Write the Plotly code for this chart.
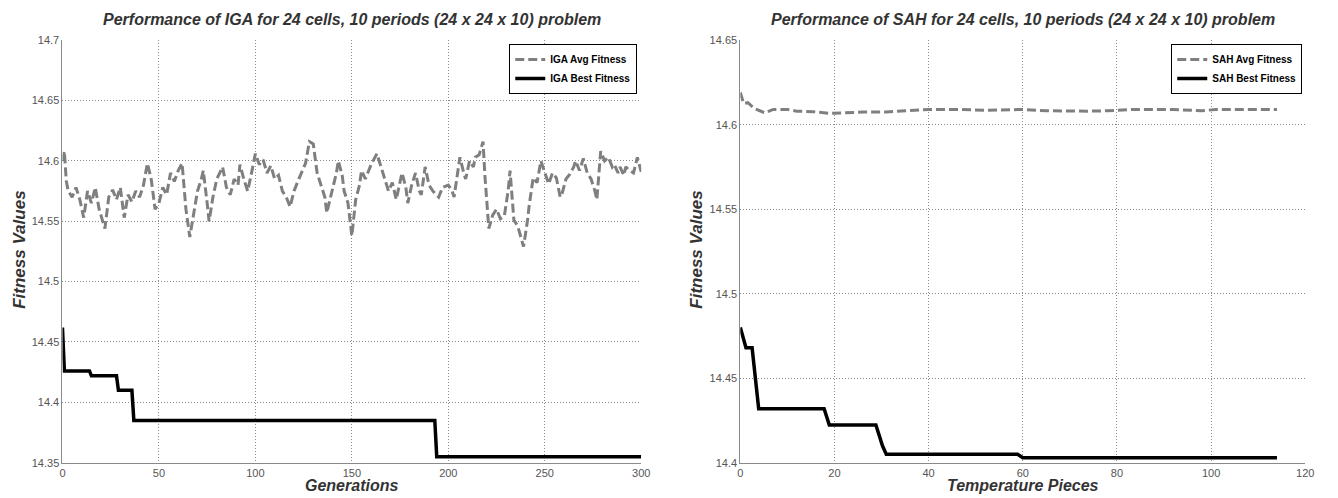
import plotly.graph_objects as go

# ---------------- data ----------------
iga_avg_gen = [0, 1, 2, 3, 5, 7, 9, 11, 13, 15, 17, 19, 22, 24, 26, 28, 30, 32, 34, 36, 38, 40, 42, 44, 46, 48,
               50, 52, 54, 56, 58, 60, 62, 64, 66, 68, 70, 72, 73, 75, 76, 78, 80, 83, 85, 87, 89, 91, 92, 94, 96,
               98, 100, 102, 104, 106, 108, 110, 112, 114, 116, 118, 120, 122, 124, 126, 128, 130, 132, 134, 136,
               137, 139, 140, 142, 143, 145, 146, 148, 150, 152, 154, 155, 157, 160, 163, 166, 168, 169, 171, 173,
               176, 178, 179, 181, 183, 185, 186, 188, 190, 192, 195, 197, 200, 202, 203, 205, 206, 208, 209, 211,
               213, 214, 216, 218, 219, 221, 223, 225, 227, 229, 231, 232, 234, 236, 238, 239, 241, 242, 244, 246,
               248, 250, 252, 254, 256, 258, 259, 261, 263, 265, 266, 268, 270, 272, 274, 276, 277, 279, 281, 283,
               285, 286, 288, 289, 291, 292, 294, 296, 298, 300]
iga_avg_val = [14.600, 14.608, 14.583, 14.575, 14.570, 14.578, 14.568, 14.553, 14.575, 14.565, 14.578, 14.560,
               14.544, 14.570, 14.576, 14.568, 14.578, 14.553, 14.572, 14.566, 14.575, 14.570, 14.580, 14.598,
               14.585, 14.560, 14.565, 14.578, 14.572, 14.590, 14.583, 14.592, 14.598, 14.560, 14.537, 14.555,
               14.575, 14.585, 14.592, 14.565, 14.550, 14.570, 14.585, 14.595, 14.578, 14.572, 14.585, 14.580,
               14.597, 14.585, 14.575, 14.590, 14.606, 14.597, 14.601, 14.590, 14.596, 14.585, 14.588, 14.575,
               14.570, 14.562, 14.575, 14.583, 14.590, 14.598, 14.616, 14.614, 14.590, 14.580, 14.570, 14.557,
               14.570, 14.578, 14.590, 14.600, 14.588, 14.575, 14.565, 14.538, 14.568, 14.580, 14.592, 14.585,
               14.597, 14.606, 14.590, 14.580, 14.575, 14.582, 14.568, 14.590, 14.578, 14.565, 14.580, 14.590,
               14.575, 14.572, 14.595, 14.580, 14.575, 14.570, 14.578, 14.580, 14.575, 14.570, 14.590, 14.603,
               14.590, 14.585, 14.600, 14.595, 14.603, 14.605, 14.616, 14.587, 14.544, 14.555, 14.560, 14.552,
               14.554, 14.575, 14.592, 14.551, 14.546, 14.535, 14.529, 14.550, 14.564, 14.586, 14.582, 14.600,
               14.590, 14.581, 14.590, 14.586, 14.570, 14.573, 14.585, 14.589, 14.595, 14.600, 14.592, 14.602,
               14.590, 14.585, 14.575, 14.568, 14.608, 14.600, 14.603, 14.595, 14.597, 14.590, 14.595, 14.588,
               14.595, 14.592, 14.590, 14.603, 14.591]

iga_best_gen = [0, 1, 14, 15, 28, 29, 36, 37, 193, 194, 300]
iga_best_val = [14.462, 14.426, 14.426, 14.422, 14.422, 14.410, 14.410, 14.385, 14.385, 14.355, 14.355]

sah_avg_piece = [0, 0.7, 1.6, 3, 5.2, 7, 10, 12, 15.5, 18.7, 22, 26, 31, 34, 40, 47, 52, 60, 65, 74, 78, 83,
                 92, 98, 101, 114]
sah_avg_val = [14.619, 14.6125, 14.613, 14.6096, 14.607, 14.609, 14.609, 14.608, 14.6077, 14.6067, 14.607,
               14.6075, 14.6075, 14.608, 14.609, 14.609, 14.6085, 14.609, 14.6082, 14.608, 14.6082, 14.609,
               14.609, 14.6082, 14.609, 14.609]

sah_best_piece = [0, 1.2, 2.5, 3.9, 17.8, 18.9, 28.8, 30.2, 31, 58.9, 60, 114]
sah_best_val = [14.480, 14.468, 14.468, 14.432, 14.432, 14.4223, 14.4223, 14.410, 14.405, 14.405, 14.403, 14.403]

iga_yticks = [14.35, 14.4, 14.45, 14.5, 14.55, 14.6, 14.65, 14.7]
iga_yticklabels = ["14.35", "14.4", "14.45", "14.5", "14.55", "14.6", "14.65", "14.7"]
iga_xticks = [0, 50, 100, 150, 200, 250, 300]
sah_yticks = [14.4, 14.45, 14.5, 14.55, 14.6, 14.65]
sah_yticklabels = ["14.4", "14.45", "14.5", "14.55", "14.6", "14.65"]
sah_xticks = [0, 20, 40, 60, 80, 100, 120]

titles = ["Performance of IGA for 24 cells, 10 periods (24 x 24 x 10) problem",
          "Performance of SAH for 24 cells, 10 periods (24 x 24 x 10) problem"]
xtitles = ["Generations", "Temperature Pieces"]
ytitle = "Fitness Values"
legend_names = ["IGA Avg Fitness", "IGA Best Fitness", "SAH Avg Fitness", "SAH Best Fitness"]

# ---------------- figure ----------------
W, H = 1338, 498
FONT = "Liberation Sans"
AVG_C = "#7f7f7f"
AVG_DASH = "9px,4px"

fig = go.Figure()
fig.add_trace(go.Scatter(x=iga_avg_gen, y=iga_avg_val, mode="lines", name="<b>" + legend_names[0] + "</b>",
                         line=dict(color=AVG_C, width=3, dash=AVG_DASH), xaxis="x", yaxis="y", legend="legend"))
fig.add_trace(go.Scatter(x=iga_best_gen, y=iga_best_val, mode="lines", name="<b>" + legend_names[1] + "</b>",
                         line=dict(color="black", width=3.5), xaxis="x", yaxis="y", legend="legend"))
fig.add_trace(go.Scatter(x=sah_avg_piece, y=sah_avg_val, mode="lines", name="<b>" + legend_names[2] + "</b>",
                         line=dict(color=AVG_C, width=3, dash=AVG_DASH), xaxis="x2", yaxis="y2", legend="legend2"))
fig.add_trace(go.Scatter(x=sah_best_piece, y=sah_best_val, mode="lines", name="<b>" + legend_names[3] + "</b>",
                         line=dict(color="black", width=3.5), xaxis="x2", yaxis="y2", legend="legend2"))

L1, R1 = 60 / W, 644 / W
L2, R2 = 744 / W, 1314 / W
B, T = 1 - 468 / H, 1 - 35 / H

axis_common = dict(showline=True, linecolor="#8a8a8a", linewidth=1, mirror=False,
                   showgrid=True, gridcolor="#8a8a8a", griddash="1px,2px", gridwidth=1,
                   zeroline=False, ticks="", tickfont=dict(family=FONT, size=11, color="#555555"))

legend_common = dict(xanchor="right", yanchor="top", bgcolor="white", bordercolor="black", borderwidth=1,
                     font=dict(family=FONT, size=10, color="black"), itemwidth=30, tracegroupgap=0)

fig.update_layout(
    width=W, height=H, margin=dict(l=0, r=0, t=0, b=0),
    paper_bgcolor="white", plot_bgcolor="white",
    xaxis=dict(domain=[L1, R1], range=[0, 300], tickvals=iga_xticks, anchor="y", **axis_common),
    yaxis=dict(domain=[B, T], range=[14.35, 14.7], tickvals=iga_yticks, ticktext=iga_yticklabels,
               anchor="x", **axis_common),
    xaxis2=dict(domain=[L2, R2], range=[0, 120], tickvals=sah_xticks, anchor="y2", **axis_common),
    yaxis2=dict(domain=[B, T], range=[14.4, 14.65], tickvals=sah_yticks, ticktext=sah_yticklabels,
                anchor="x2", **axis_common),
    legend=dict(x=640 / W, y=1 - 39 / H, **legend_common),
    legend2=dict(x=1311 / W, y=1 - 39 / H, **legend_common),
    showlegend=True,
)

ann = []
for text, cx in zip(titles, [(L1 + R1) / 2, (L2 + R2) / 2]):
    ann.append(dict(text="<b><i>" + text + "</i></b>", x=cx, y=1 - 14 / H, xref="paper", yref="paper",
                    showarrow=False, font=dict(family=FONT, size=16, color="#333333"),
                    xanchor="center", yanchor="middle"))
for text, cx in zip(xtitles, [(L1 + R1) / 2, (L2 + R2) / 2]):
    ann.append(dict(text="<b><i>" + text + "</i></b>", x=cx, y=1 - 491 / H, xref="paper", yref="paper",
                    showarrow=False, font=dict(family=FONT, size=16, color="#333333"),
                    xanchor="center", yanchor="middle"))
for px in [17, 700]:
    ann.append(dict(text="<b><i>" + ytitle + "</i></b>", x=px / W, y=1 - 250 / H, xref="paper", yref="paper",
                    showarrow=False, textangle=-90, font=dict(family=FONT, size=17, color="#333333"),
                    xanchor="center", yanchor="middle"))
fig.update_layout(annotations=ann)

fig.write_html("out.html", config={"displayModeBar": False},
               post_script="document.body.style.margin='0';document.body.style.overflow='hidden';")
